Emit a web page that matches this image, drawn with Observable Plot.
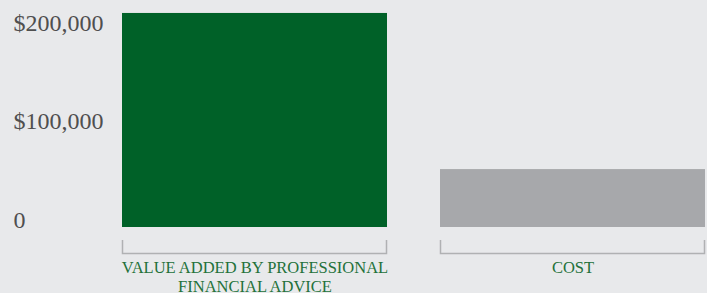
<!DOCTYPE html>
<html>
<head>
<meta charset="utf-8">
<script src="https://cdn.jsdelivr.net/npm/d3@7"></script>
<script src="https://cdn.jsdelivr.net/npm/@observablehq/plot@0.6"></script>
<style>
  html, body { margin: 0; padding: 0; background: #e8e9eb; }
  #chart { width: 707px; height: 293px; overflow: hidden; }
</style>
</head>
<body>
<div id="chart"></div>
<script>
const categories = ["VALUE ADDED BY PROFESSIONAL\nFINANCIAL ADVICE", "COST"];
const values = [218000, 59000];
const barColors = ["#006128", "#a7a8ab"];
const yTicks = [0, 100000, 200000];
const yTickLabels = ["0", "$100,000", "$200,000"];

const data = categories.map((c, i) => ({cat: c, value: values[i], color: barColors[i]}));
const serif = "'Liberation Serif', 'DejaVu Serif', serif";

const plot = Plot.plot({
  width: 707,
  height: 293,
  marginLeft: 122,
  marginRight: 2,
  marginTop: 11,
  marginBottom: 66,
  style: {background: "#e8e9eb", fontFamily: serif},
  x: {domain: categories, paddingInner: 0.1667, paddingOuter: 0, axis: null},
  y: {domain: [0, 220000], axis: null},
  marks: [
    Plot.barY(data, {x: "cat", y: "value", fill: "color"}),
    Plot.axisY({
      ticks: yTicks,
      tickFormat: d => yTickLabels[yTicks.indexOf(d)],
      tickSize: 0,
      tickPadding: 109,
      textAnchor: "start",
      lineAnchor: "bottom",
      fontSize: 24,
      fill: "#4f4f4f",
      label: null
    }),
    Plot.axisX({
      tickSize: 0,
      tickPadding: 32,
      fontSize: 16.5,
      lineHeight: 1.15,
      fill: "#23713a",
      label: null
    })
  ]
});

// bracket decorations under each bar, positioned with the plot's own scales
const xs = plot.scale("x");
const ys = plot.scale("y");
const y0 = ys.apply(0);
const svg = d3.select(plot);
categories.forEach(c => {
  const x0 = xs.apply(c);
  const x1 = x0 + xs.bandwidth;
  svg.append("path")
    .attr("d", `M${x0 + 0.5},${y0 + 13}V${y0 + 26.5}H${x1 - 0.5}V${y0 + 13}`)
    .attr("fill", "none")
    .attr("stroke", "#b0b1b3")
    .attr("stroke-width", 1.5);
});

document.getElementById("chart").appendChild(plot);
</script>
</body>
</html>
